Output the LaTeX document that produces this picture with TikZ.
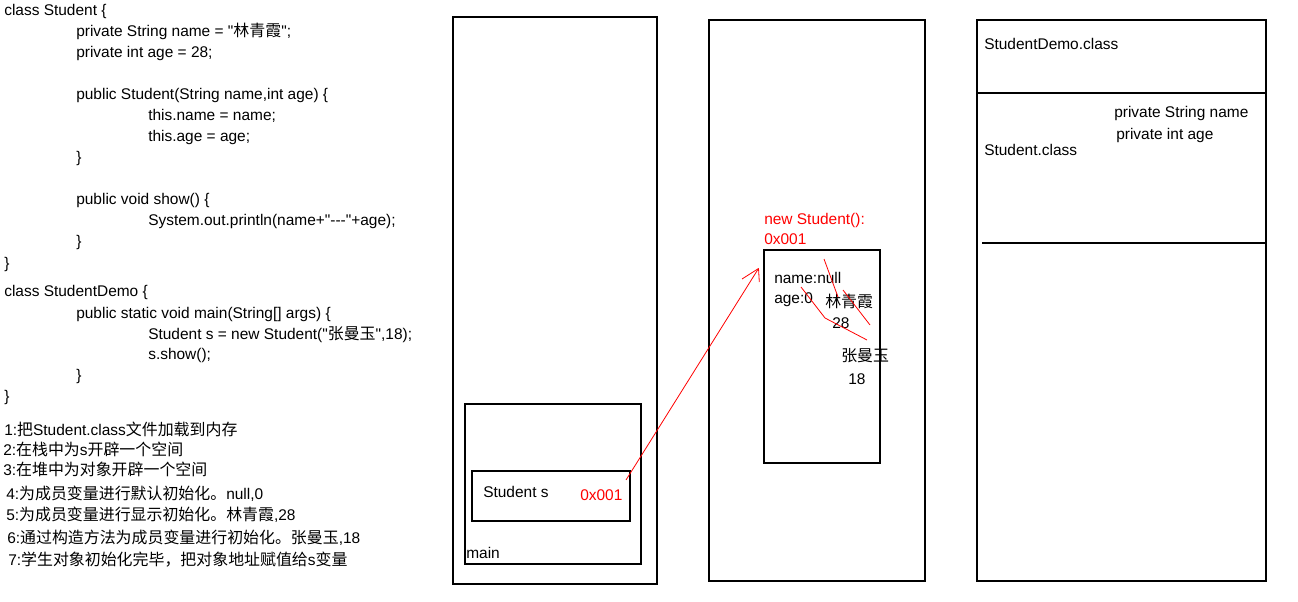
\documentclass[tikz,border=0pt]{standalone}
\usepackage{fontspec}
\setmainfont{Liberation Sans}[Ligatures=TeXOff]
\newfontfamily\cjk[Scale=1.03]{Noto Sans CJK SC}
\usetikzlibrary{fit}
\begin{document}
\begin{tikzpicture}[x=0.75pt,y=-0.75pt,
  txt/.style={inner sep=0pt, anchor=base west, font=\fontsize{11.6}{14}\selectfont},
  rtxt/.style={txt, text=red},
  box/.style={draw, line width=1pt, inner sep=0pt},
  redline/.style={red, line width=0.6pt}]
\useasboundingbox (0,0) rectangle (1298,602);
% code
\node[txt] (c1) at (4,16) {class Student \{};
\node[txt] (c2) at (76,37) {private String name = "{\cjk 林青霞}";};
\node[txt] (c3) at (76,58) {private int age = 28;};
\node[txt] (c4) at (76,100) {public Student(String name,int age) \{};
\node[txt] (c5) at (148,121) {this.name = name;};
\node[txt] (c6) at (148,142) {this.age = age;};
\node[txt] (c7) at (76,163) {\}};
\node[txt] (c8) at (76,205) {public void show() \{};
\node[txt] (c9) at (148,226) {System.out.println(name+"---"+age);};
\node[txt] (c10) at (76,247) {\}};
\node[txt] (c11) at (4,268) {\}};
\node[txt] (c12) at (4,296) {class StudentDemo \{};
\node[txt] (c13) at (76,318) {public static void main(String[] args) \{};
\node[txt] (c14) at (148,339) {Student s = new Student("{\cjk 张曼玉}",18);};
\node[txt] (c15) at (148,359) {s.show();};
\node[txt] (c16) at (76,380) {\}};
\node[txt] (c17) at (4,401) {\}};
% steps
\node[txt] (l1) at (4,435) {1:{\cjk 把}Student.class{\cjk 文件加载到内存}};
\node[txt] (l2) at (3,455) {2:{\cjk 在栈中为}s{\cjk 开辟一个空间}};
\node[txt] (l3) at (3,475) {3:{\cjk 在堆中为对象开辟一个空间}};
\node[txt] (l4) at (6,499) {4:{\cjk 为成员变量进行默认初始化。}null,0};
\node[txt] (l5) at (6,520) {5:{\cjk 为成员变量进行显示初始化。林青霞},28};
\node[txt] (l6) at (7,543) {6:{\cjk 通过构造方法为成员变量进行初始化。张曼玉},18};
\node[txt] (l7) at (8,565) {7:{\cjk 学生对象初始化完毕，把对象地址赋值给}s{\cjk 变量}};
% stack
\node[box, fit={(453,17) (657,584)}] (stack) {};
\node[box, fit={(465,404) (641,564)}] (mainf) {};
\node[box, fit={(472,471) (630,521)}] (sbox) {};
\node[txt] (sname) at (483,497) {Student s};
\node[rtxt] (addr) at (580,500) {0x001};
\node[txt] (mainl) at (466,558) {main};
% heap
\node[box, fit={(709,20) (925,581)}] (heap) {};
\node[box, fit={(764,250) (880,463)}] (obj) {};
\node[rtxt] (new1) at (764,224) {new Student():};
\node[rtxt] (new2) at (764,244) {0x001};
\node[txt] (f1) at (774,283) {name:null};
\node[txt] (f2) at (774,303) {age:0};
\node[txt] (v1) at (825,307) {{\cjk 林青霞}};
\node[txt] (v2) at (832,328) {28};
\node[txt] (v3) at (841,361) {{\cjk 张曼玉}};
\node[txt] (v4) at (848,384) {18};
% method area
\node[box, fit={(977,20) (1266,581)}] (method) {};
\draw[line width=1pt] (977,93) -- (1267,93);
\draw[line width=1pt] (982,243) -- (1266,243);
\node[txt] (m1) at (984,50) {StudentDemo.class};
\node[txt] (m2) at (1114,118) {private String name};
\node[txt] (m3) at (1116,140) {private int age};
\node[txt] (m4) at (984,156) {Student.class};
% red marks
\draw[redline] (824,259) -- (838,297);
\draw[redline] (843,290) -- (870,325);
\draw[redline] (801,287) -- (825,318) -- (867,340);
% arrow
\coordinate (p0) at (626,480);
\coordinate (p1) at (758.5,268.5);
\draw[redline] (p0) -- (p1);
\draw[redline] (742,279) -- (p1);
\draw[redline] (p1) -- (759.3,282);
\end{tikzpicture}
\end{document}
